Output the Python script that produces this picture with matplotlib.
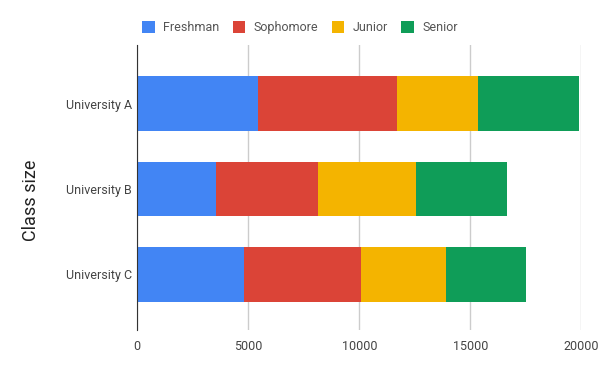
import matplotlib.pyplot as plt
import numpy as np

plt.rcParams['font.family'] = ['Roboto', 'DejaVu Sans']

universities = ['University A', 'University B', 'University C']
classes = ['Freshman', 'Sophomore', 'Junior', 'Senior']
freshman = [5440, 3550, 4810]
sophomore = [6260, 4590, 5270]
junior = [3650, 4410, 3830]
senior = [4550, 4090, 3600]
colors = ['#4285f4', '#db4437', '#f4b400', '#0f9d58']

fig = plt.figure(figsize=(6, 3.71), dpi=100)
ax = fig.add_axes([0.2288, 0.1105, 0.74, 0.7682])

y = np.arange(len(universities))
left = np.zeros(len(universities))
for name, vals, c in zip(classes, [freshman, sophomore, junior, senior], colors):
    ax.barh(y, vals, left=left, height=0.643, color=c, label=name, zorder=3)
    left += np.array(vals)

ax.set_xlim(0, 20000)
ax.set_ylim(2.65, -0.685)
ax.set_xticks([0, 5000, 10000, 15000, 20000])
ax.set_yticks(y)
ax.set_yticklabels(universities)
ax.tick_params(axis='both', length=0, labelsize=9, colors='#444444')
ax.tick_params(axis='y', pad=4)
ax.tick_params(axis='x', pad=7)
ax.grid(axis='x', color='#cccccc', linewidth=1, zorder=0)
for s in ['top', 'right', 'bottom']:
    ax.spines[s].set_visible(False)
ax.spines['left'].set_color('#333333')
ax.spines['left'].set_zorder(4)

fig.text(0.052, 0.46, 'Class size', rotation=90, fontsize=13, color='#222222',
         ha='center', va='center')

fig.legend(loc='center left', bbox_to_anchor=(0.218, 0.925), ncol=4, frameon=False,
           fontsize=9, handlelength=1.0, handleheight=1.0, handletextpad=0.7,
           columnspacing=1.05, labelcolor='#555555')

fig.savefig('out.png', dpi=100)
